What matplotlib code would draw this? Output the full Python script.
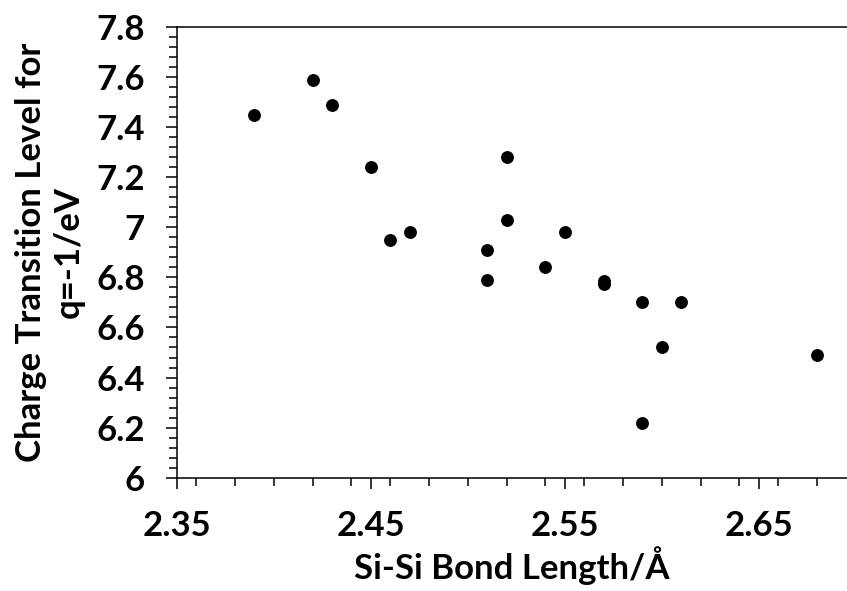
import matplotlib
matplotlib.use("Agg")
import matplotlib.pyplot as plt
from matplotlib.ticker import MultipleLocator, FixedLocator

# Si-Si bond length (Å) and the q=-1 charge transition level (eV)
bond_length = [2.39, 2.42, 2.43, 2.45, 2.46, 2.47, 2.51, 2.51, 2.52, 2.52,
               2.54, 2.55, 2.57, 2.57, 2.59, 2.61, 2.60, 2.59, 2.68]
transition_level = [7.45, 7.59, 7.49, 7.24, 6.95, 6.98, 6.91, 6.79, 7.28, 7.03,
                    6.84, 6.98, 6.785, 6.775, 6.70, 6.70, 6.52, 6.22, 6.49]

x_major = [2.35, 2.45, 2.55, 2.65]
x_labels = ["2.35", "2.45", "2.55", "2.65"]
y_major = [6.0, 6.2, 6.4, 6.6, 6.8, 7.0, 7.2, 7.4, 7.6, 7.8]
y_labels = ["6", "6.2", "6.4", "6.6", "6.8", "7", "7.2", "7.4", "7.6", "7.8"]

FONT = "Lato"
WEIGHT = "bold"
plt.rcParams["font.family"] = [FONT, "DejaVu Sans"]
plt.rcParams["font.weight"] = WEIGHT

W, H = 847, 591
fig = plt.figure(figsize=(W / 100, H / 100), dpi=100)
left, right, top, bottom = 176.7, 847.0, 27.0, 477.7
ax = fig.add_axes([left / W, 1 - bottom / H, (right - left) / W, (bottom - top) / H])

ax.scatter(bond_length, transition_level, s=86, color="black", linewidths=0, zorder=3,
           clip_on=False)

ax.set_xlim(2.35, 2.35 + (right - left) / 1940.0)
ax.set_ylim(6.0, 7.8)

ax.xaxis.set_major_locator(FixedLocator(x_major))
ax.set_xticklabels(x_labels)
ax.xaxis.set_minor_locator(MultipleLocator(0.02))
ax.yaxis.set_major_locator(FixedLocator(y_major))
ax.set_yticklabels(y_labels)
ax.yaxis.set_minor_locator(MultipleLocator(0.04))

for spine in ("left", "bottom", "top"):
    ax.spines[spine].set_linewidth(1.1)
    ax.spines[spine].set_color("black")
ax.spines["right"].set_visible(False)

FS = 25
ax.tick_params(which="major", direction="out", length=8, width=1.1, color="black",
               labelsize=FS, pad=15)
ax.tick_params(which="minor", direction="out", length=5.8, width=1.1, color="black")
ax.tick_params(axis="x", which="both", top=False)
ax.tick_params(axis="y", which="both", right=False)
for lab in ax.get_xticklabels() + ax.get_yticklabels():
    lab.set_fontweight(WEIGHT)

ax.set_xlabel("Si-Si Bond Length/Å", fontsize=FS, fontweight=WEIGHT, labelpad=3)
fig.text(50 / W, 1 - ((top + bottom) / 2) / H, "Charge Transition Level for\nq=-1/eV",
         rotation=90, ha="center", va="center", ma="center", fontsize=FS,
         fontweight=WEIGHT, linespacing=1.2)

fig.savefig("out.png", dpi=100, facecolor="white")
